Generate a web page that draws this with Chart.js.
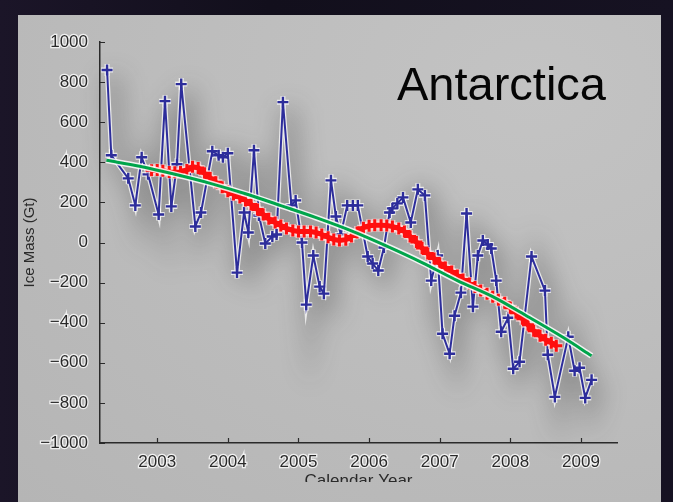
<!DOCTYPE html>
<html><head><meta charset="utf-8">
<script src="https://cdn.jsdelivr.net/npm/chart.js@4/dist/chart.umd.min.js"></script>
<style>
html,body{margin:0;padding:0;width:673px;height:502px;overflow:hidden;background:linear-gradient(90deg,#1b1528,#120f1c 40%,#161222);}
#panel{position:absolute;left:18px;top:15px;width:643px;height:487px;
  background:radial-gradient(ellipse at 80% 15%, #c3c3c3 0%, #bdbdbd 45%, #b5b5b5 100%);}
#wrap{position:absolute;left:0;top:0;width:673px;height:482px;overflow:hidden;}
canvas{display:block;}
</style></head><body>
<div id="panel"></div>
<div id="wrap"><canvas id="c" width="673" height="502"></canvas></div>
<script>
// ---- data ----
const blueYears = [2002.29, 2002.35, 2002.59, 2002.69, 2002.78, 2002.87, 2003.02, 2003.11, 2003.20, 2003.28, 2003.34, 2003.54, 2003.62, 2003.78, 2003.87, 2003.93, 2004.00, 2004.13, 2004.23, 2004.29, 2004.37, 2004.44, 2004.53, 2004.63, 2004.69, 2004.78, 2004.90, 2004.96, 2005.05, 2005.11, 2005.21, 2005.30, 2005.36, 2005.46, 2005.53, 2005.60, 2005.69, 2005.77, 2005.84, 2005.98, 2006.05, 2006.13, 2006.21, 2006.29, 2006.33, 2006.40, 2006.48, 2006.59, 2006.69, 2006.79, 2006.88, 2006.97, 2007.04, 2007.14, 2007.21, 2007.30, 2007.38, 2007.47, 2007.54, 2007.61, 2007.68, 2007.73, 2007.80, 2007.87, 2007.97, 2008.04, 2008.13, 2008.30, 2008.49, 2008.53, 2008.63, 2008.82, 2008.91, 2008.98, 2009.06, 2009.15];
const blueMass = [860, 435, 320, 185, 425, 340, 140, 705, 180, 390, 790, 80, 150, 455, 435, 425, 445, -150, 150, 50, 460, 135, -5, 30, 40, 700, 185, 210, 0, -310, -65, -220, -255, 310, 130, 40, 185, 185, 185, -70, -105, -140, -25, 150, 170, 195, 225, 100, 265, 235, -190, -65, -455, -555, -365, -250, 145, -320, -65, 10, -10, -30, -190, -445, -375, -630, -595, -70, -240, -560, -770, -470, -640, -625, -775, -685];

const redYears = [2002.92, 2003.00, 2003.08, 2003.17, 2003.25, 2003.33, 2003.42, 2003.50, 2003.58, 2003.67, 2003.75, 2003.83, 2003.92, 2004.00, 2004.08, 2004.17, 2004.25, 2004.33, 2004.42, 2004.50, 2004.58, 2004.67, 2004.75, 2004.83, 2004.92, 2005.00, 2005.08, 2005.17, 2005.25, 2005.33, 2005.42, 2005.50, 2005.58, 2005.67, 2005.75, 2005.83, 2005.92, 2006.00, 2006.08, 2006.17, 2006.25, 2006.33, 2006.42, 2006.50, 2006.58, 2006.67, 2006.75, 2006.83, 2006.92, 2007.00, 2007.08, 2007.17, 2007.25, 2007.33, 2007.42, 2007.50, 2007.58, 2007.67, 2007.75, 2007.83, 2007.92, 2008.00, 2008.08, 2008.17, 2008.25, 2008.33, 2008.42, 2008.50, 2008.58, 2008.65];
const redMass = [360, 362, 358, 352, 350, 352, 362, 378, 372, 345, 322, 300, 276, 256, 240, 225, 210, 190, 165, 140, 118, 100, 85, 70, 60, 55, 55, 55, 50, 40, 26, 15, 10, 14, 30, 50, 74, 84, 86, 86, 85, 80, 70, 55, 30, 2, -28, -55, -80, -104, -125, -145, -165, -185, -205, -222, -240, -255, -270, -285, -300, -325, -350, -380, -410, -440, -465, -485, -500, -515];

const greenYears = [2002.28, 2002.75, 2003.25, 2003.75, 2004.25, 2004.75, 2005.25, 2005.75, 2006.25, 2006.75, 2007.25, 2007.75, 2008.25, 2008.75, 2009.15];
const greenMass = [410, 380, 340, 295, 243, 184, 124, 58, -18, -100, -190, -270, -370, -474, -565];

const xTickYears = [2003, 2004, 2005, 2006, 2007, 2008, 2009];
const yTickValues = [-1000, -800, -600, -400, -200, 0, 200, 400, 600, 800, 1000];
const chartTitle = 'Antarctica';
const yTitle = 'Ice Mass (Gt)';
const xTitle = 'Calendar Year';

// ---- chart ----
const pts = (xs, ys) => xs.map((x, i) => ({x: x, y: ys[i]}));
const FONT = '"Liberation Sans", Arial, Helvetica, sans-serif';
Chart.defaults.font.family = FONT;

const effects = {
  id: 'effects',
  beforeDatasetDraw(chart, args) {
    const ds = chart.data.datasets[args.index];
    if (ds.blur) {
      chart.ctx.save();
      chart.ctx.filter = 'blur(' + ds.blur + 'px)';
      chart.ctx.translate(ds.shift, ds.shift);
    }
  },
  afterDatasetDraw(chart, args) {
    const ds = chart.data.datasets[args.index];
    if (ds.blur) chart.ctx.restore();
  },
  afterDraw(chart) {
    const {ctx, chartArea: a, scales: {x, y}} = chart;
    ctx.save();
    ctx.strokeStyle = '#2a2a2a';
    ctx.lineWidth = 1.2;
    ctx.beginPath();
    y.ticks.forEach(t => { const py = Math.round(y.getPixelForValue(t.value)) + 0.5; ctx.moveTo(a.left, py); ctx.lineTo(a.left + 5, py); });
    x.ticks.forEach(t => { const px = Math.round(x.getPixelForValue(t.value)) + 0.5; ctx.moveTo(px, a.bottom); ctx.lineTo(px, a.bottom - 5); });
    ctx.stroke();
    ctx.font = '47px ' + FONT;
    ctx.fillStyle = '#050505';
    ctx.textBaseline = 'alphabetic';
    ctx.textAlign = 'left';
    ctx.fillText(chartTitle, 397, 100);
    ctx.restore();
  }
};

new Chart(document.getElementById('c'), {
  type: 'line',
  data: {
    datasets: [
      {data: pts(greenYears, greenMass), borderColor: 'rgb(0,165,75)', borderWidth: 3, pointRadius: 0, cubicInterpolationMode: 'monotone'},
      {data: pts(greenYears, greenMass), borderColor: 'rgba(255,255,255,0.85)', borderWidth: 6, pointRadius: 0, cubicInterpolationMode: 'monotone'},
      {data: pts(redYears, redMass), borderColor: 'rgb(255,15,15)', borderWidth: 5, pointStyle: 'cross', pointRadius: 6, pointBorderWidth: 3, pointBorderColor: 'rgb(255,15,15)'},
      {data: pts(redYears, redMass), borderColor: 'rgba(255,225,225,0.7)', borderWidth: 9, pointStyle: 'cross', pointRadius: 6.5, pointBorderWidth: 6, pointBorderColor: 'rgba(255,220,220,0.7)'},
      {data: pts(blueYears, blueMass), borderColor: 'rgb(45,45,155)', borderWidth: 2, pointStyle: 'cross', pointRadius: 5.5, pointBorderWidth: 2.4, pointBorderColor: 'rgb(45,45,155)'},
      {data: pts(blueYears, blueMass), borderColor: 'rgba(255,255,255,0.75)', borderWidth: 4.5, pointStyle: 'cross', pointRadius: 6, pointBorderWidth: 5, pointBorderColor: 'rgba(255,255,255,0.75)'},
      {data: pts(blueYears, blueMass), borderColor: 'rgba(40,40,40,0.28)', borderWidth: 16, pointRadius: 0, blur: 12, shift: 6, clip: false}
    ]
  },
  options: {
    responsive: false,
    animation: false,
    layout: {padding: {left: 0, right: 56, top: 42, bottom: 0}},
    plugins: {legend: {display: false}, tooltip: {enabled: false}},
    scales: {
      x: {
        type: 'linear', min: 2002.19, max: 2009.51,
        afterBuildTicks: s => { s.ticks = xTickYears.map(v => ({value: v})); },
        afterFit: s => { s.height = 59; },
        grid: {display: false},
        border: {color: '#2a2a2a', width: 1.5},
        ticks: {padding: 1, color: '#2a2a2a', font: {size: 17}, textStrokeColor: 'rgba(255,255,255,0.8)', textStrokeWidth: 2.5, maxRotation: 0, autoSkip: false, callback: v => String(v)},
        title: {display: true, text: xTitle, color: '#2a2a2a', font: {size: 17}, padding: {top: 0, bottom: 10}}
      },
      y: {
        type: 'linear', min: -1000, max: 1000,
        afterBuildTicks: s => { s.ticks = yTickValues.map(v => ({value: v})); },
        afterFit: s => { s.width = 100; },
        grid: {display: false},
        border: {color: '#2a2a2a', width: 1.5},
        ticks: {padding: 4, color: '#2a2a2a', font: {size: 17}, textStrokeColor: 'rgba(255,255,255,0.8)', textStrokeWidth: 2.5, callback: v => v < 0 ? '\u2212' + Math.abs(v) : String(v)},
        title: {display: true, text: yTitle, color: '#2a2a2a', font: {size: 15}, padding: {top: 21, bottom: 0}}
      }
    }
  },
  plugins: [effects]
});
</script></body></html>
